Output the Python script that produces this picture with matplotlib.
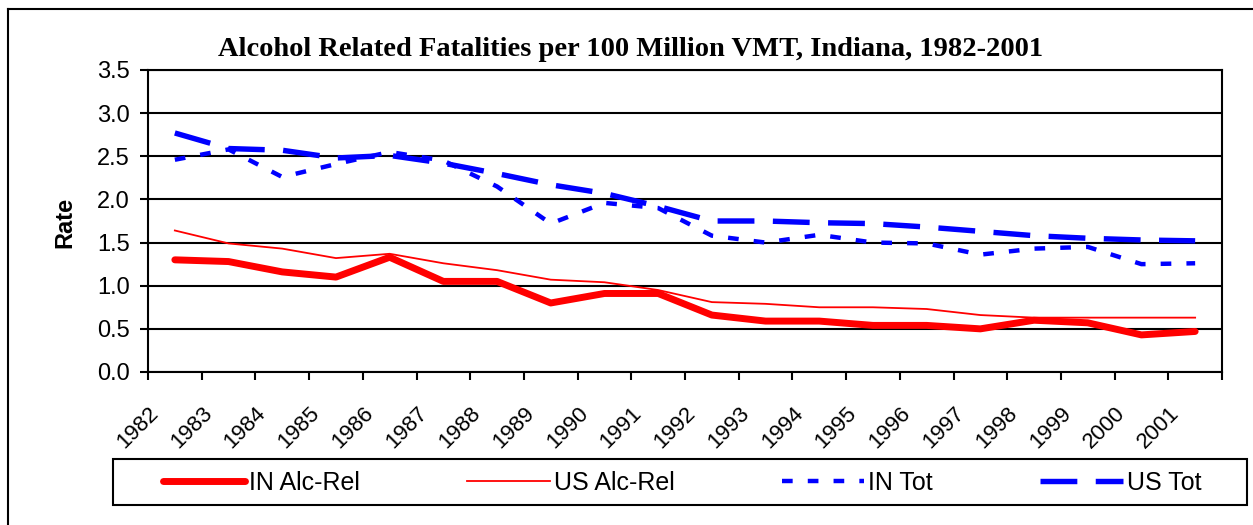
import matplotlib as mpl
mpl.use('Agg')
import matplotlib.pyplot as plt
import matplotlib.transforms as mtransforms
from matplotlib.lines import Line2D
from matplotlib.patches import Rectangle

years = [str(y) for y in range(1982, 2002)]
in_alc = [1.30, 1.28, 1.16, 1.10, 1.33, 1.05, 1.05, 0.80, 0.91, 0.91,
          0.66, 0.59, 0.59, 0.54, 0.54, 0.50, 0.60, 0.57, 0.43, 0.47]
us_alc = [1.64, 1.49, 1.43, 1.32, 1.37, 1.26, 1.18, 1.07, 1.04, 0.95,
          0.81, 0.79, 0.75, 0.75, 0.73, 0.66, 0.63, 0.63, 0.63, 0.63]
in_tot = [2.46, 2.58, 2.26, 2.41, 2.55, 2.45, 2.15, 1.72, 1.96, 1.90,
          1.58, 1.50, 1.59, 1.50, 1.49, 1.36, 1.43, 1.45, 1.25, 1.26]
us_tot = [2.77, 2.59, 2.57, 2.48, 2.51, 2.42, 2.30, 2.17, 2.07, 1.92,
          1.75, 1.75, 1.73, 1.72, 1.68, 1.63, 1.58, 1.55, 1.53, 1.52]
labels = ["IN Alc-Rel", "US Alc-Rel", "IN Tot", "US Tot"]

sans = ['Liberation Sans', 'DejaVu Sans']
plt.rcParams['font.family'] = sans

W, H = 1253, 525
fig = plt.figure(figsize=(W / 100, H / 100), dpi=100)
ax = fig.add_axes([148 / W, 1 - 372 / H, (1222 - 148) / W, (372 - 70) / H])

x = [i + 0.5 for i in range(len(years))]
ax.plot(x, in_alc, color='red', lw=5, solid_capstyle='round', solid_joinstyle='round', label=labels[0])
ax.plot(x, us_alc, color='red', lw=1.3, label=labels[1])
ax.plot(x, in_tot, color='blue', lw=3.2, linestyle=(0, (2.4, 3.4)), dash_capstyle='butt', label=labels[2])
ax.plot(x, us_tot, color='blue', lw=3.9, linestyle=(0, (6.8, 3.4)), dash_capstyle='butt', label=labels[3])

ax.set_xlim(0, 20)
ax.set_ylim(0, 3.5)
ax.set_yticks([i * 0.5 for i in range(8)])
ax.set_yticklabels(["%.1f" % (i * 0.5) for i in range(8)])
ax.yaxis.grid(True, color='black', lw=1.5)
ax.set_axisbelow(True)
ax.set_xticks(range(21))
ax.set_xticklabels([])
ax.set_xticks(x, minor=True)
ax.set_xticklabels(years, minor=True, rotation=45, ha='right', va='top')
ax.tick_params(axis='x', which='minor', length=0, pad=22, labelsize=16)
ax.tick_params(axis='both', which='major', direction='out', length=6, width=1.5, labelsize=17)
ax.tick_params(axis='y', pad=7)
off = mtransforms.ScaledTranslation(-12 / 100, 0, fig.dpi_scale_trans)
for t in ax.xaxis.get_minorticklabels():
    t.set_transform(t.get_transform() + off)
for s in ax.spines.values():
    s.set_linewidth(1.5)

fig.text(631 / W, 1 - 49 / H, "Alcohol Related Fatalities per 100 Million VMT, Indiana, 1982-2001",
         ha='center', va='center', fontsize=20.5, fontweight='bold', family=['Liberation Serif', 'DejaVu Serif'])
fig.text(65 / W, 1 - 222 / H, "Rate", rotation=90, ha='center', va='center', fontsize=17,
         fontweight='bold')

# legend box
fig.add_artist(Rectangle((113 / W, 1 - 505 / H), (1247 - 113) / W, 46 / H, fill=False,
                         edgecolor='black', lw=1.5, transform=fig.transFigure))
leg = fig.legend(loc='center', ncol=4, frameon=False,
                 bbox_to_anchor=(682 / W, 1 - 483 / H),
                 handlelength=3.3, handletextpad=0.15, columnspacing=4.3, borderaxespad=0,
                 prop={'size': 18})

# chart area border (left and top visible)
fig.add_artist(Line2D([8 / W, 8 / W], [0, 1 - 9 / H], color='black', lw=1.5, transform=fig.transFigure))
fig.add_artist(Line2D([8 / W, 1], [1 - 9 / H, 1 - 9 / H], color='black', lw=1.5, transform=fig.transFigure))

plt.savefig("out.png", dpi=100)
plt.close()
